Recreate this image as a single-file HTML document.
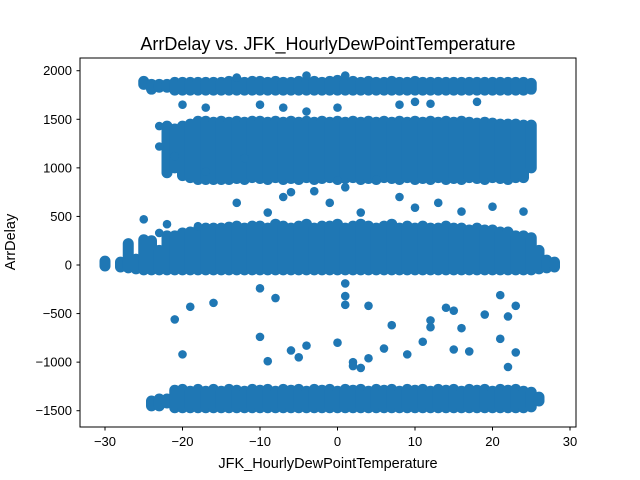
<!DOCTYPE html>
<html><head><meta charset="utf-8"><style>
body{margin:0;background:#fff;}
svg{display:block;font-family:"Liberation Sans","DejaVu Sans",sans-serif;}
</style></head><body>
<svg id="chart" width="640" height="480" viewBox="0 0 640 480">
<rect width="640" height="480" fill="#fff"/>
<text x="328" y="50" text-anchor="middle" font-size="18">ArrDelay vs. JFK_HourlyDewPointTemperature</text>
<g id="marks"></g>
<rect x="80" y="58" width="496" height="369" fill="none" stroke="#000" stroke-width="1"/>
<g id="axes"></g>
<text x="328" y="468" text-anchor="middle" font-size="14.5">JFK_HourlyDewPointTemperature</text>
<text transform="translate(15,242) rotate(-90)" text-anchor="middle" font-size="14.5">ArrDelay</text>
</svg>
<script>
// temperature columns and ArrDelay ranges per band [lo, hi] (null = absent)
const temps = [-30,-29,-28,-27,-26,-25,-24,-23,-22,-21,-20,-19,-18,-17,-16,-15,-14,-13,-12,-11,-10,-9,-8,-7,-6,-5,-4,-3,-2,-1,0,1,2,3,4,5,6,7,8,9,10,11,12,13,14,15,16,17,18,19,20,21,22,23,24,25,26,27,28];
const mainLo = [-10,null,-20,-30,-40,-50,-50,-50,-50,-50,-50,-50,-50,-50,-50,-50,-50,-50,-50,-50,-50,-50,-50,-50,-50,-50,-50,-50,-50,-50,-50,-50,-50,-50,-50,-50,-50,-50,-50,-50,-50,-50,-50,-50,-50,-50,-50,-50,-50,-50,-50,-50,-50,-50,-50,-50,-40,-30,-20];
const mainHi = [40,null,30,220,60,260,250,150,300,300,330,340,360,380,380,380,390,400,380,400,400,380,420,400,380,400,420,380,400,400,420,380,400,420,400,380,400,420,380,400,380,400,380,380,400,380,380,360,380,360,360,340,340,300,300,280,150,50,30];
const midLo = [null,null,null,null,null,null,null,null,950,1000,920,900,880,880,880,880,880,890,880,900,890,880,900,880,890,880,900,880,890,900,880,890,900,880,890,880,900,890,880,900,880,890,880,900,880,890,880,900,890,880,900,890,880,900,900,1000,null,null,null];
const midHi = [null,null,null,null,null,null,null,null,1430,1400,1430,1450,1480,1480,1470,1480,1470,1480,1470,1480,1480,1470,1480,1470,1480,1470,1480,1470,1480,1470,1480,1470,1480,1470,1480,1470,1480,1470,1480,1470,1480,1470,1480,1470,1480,1470,1480,1470,1460,1470,1460,1450,1450,1450,1440,1440,null,null,null];
const topLo = [null,null,null,null,null,1860,1810,1830,1830,1800,1800,1800,1800,1800,1800,1800,1800,1800,1800,1800,1800,1800,1800,1800,1800,1800,1800,1800,1800,1800,1800,1800,1800,1800,1800,1800,1800,1800,1800,1800,1800,1800,1800,1800,1800,1800,1800,1800,1800,1800,1800,1800,1800,1800,1800,1810,null,null,null];
const topHi = [null,null,null,null,null,1890,1860,1860,1860,1880,1880,1880,1880,1880,1880,1880,1890,1900,1880,1890,1890,1880,1890,1880,1880,1890,1880,1890,1880,1890,1900,1880,1890,1880,1890,1880,1880,1890,1880,1880,1890,1880,1880,1880,1880,1880,1880,1880,1880,1880,1880,1880,1880,1880,1880,1870,null,null,null];
const botLo = [null,null,null,null,null,null,-1450,-1450,-1420,-1470,-1470,-1470,-1470,-1470,-1470,-1470,-1470,-1470,-1470,-1470,-1470,-1470,-1470,-1470,-1470,-1470,-1470,-1470,-1470,-1470,-1470,-1470,-1470,-1470,-1470,-1470,-1470,-1470,-1470,-1470,-1470,-1470,-1470,-1470,-1470,-1470,-1470,-1470,-1470,-1470,-1470,-1470,-1470,-1470,-1470,-1460,-1400,null,null];
const botHi = [null,null,null,null,null,null,-1400,-1380,-1380,-1290,-1280,-1300,-1280,-1300,-1280,-1300,-1280,-1290,-1300,-1280,-1290,-1280,-1300,-1280,-1290,-1280,-1300,-1280,-1290,-1280,-1300,-1280,-1290,-1280,-1300,-1280,-1290,-1280,-1300,-1280,-1290,-1280,-1300,-1280,-1290,-1280,-1300,-1280,-1290,-1280,-1300,-1280,-1290,-1280,-1300,-1310,-1360,null,null];
// isolated points
const outX = [-25,-22,-23,-18,-13,-9,-6,-3,-7,1,0,5,8,10,13,16,20,24,-1,3,-10,-8,-19,-16,-21,-20,-10,-9,-6,-4,-5,1,1,1,4,2,2,0,3,4,6,7,9,11,12,12,14,15,16,15,17,19,21,23,22,21,23,22,-12,-10,-17,-4,0,10,12,-4,1,-13,-20,-17,-7,8,-23,-23,-21,18];
const outY = [470,420,330,400,640,540,750,760,700,800,870,880,700,590,640,550,600,550,640,540,-240,-340,-430,-390,-560,-920,-740,-990,-880,-830,-950,-190,-320,-410,-420,-1000,-1040,-800,-1060,-960,-860,-620,-920,-790,-570,-640,-440,-470,-650,-870,-890,-510,-310,-420,-530,-760,-900,-1050,1100,1650,1620,1580,1620,1680,1660,1950,1950,1930,1650,960,1620,1650,1220,1430,1120,1680];
const xTicks = [-30,-20,-10,0,10,20,30];
const yTicks = [-1500,-1000,-500,0,500,1000,1500,2000];

const NS = "http://www.w3.org/2000/svg";
const xScale = v => 337.5 + v * 7.75;
const yScale = v => 265 - v * 0.09714;
const C = "#1f77b4";
const marks = document.getElementById("marks");
const axes = document.getElementById("axes");

function band(lo, hi, name) {
  temps.forEach((t, i) => {
    if (lo[i] === null) return;
    const l = document.createElementNS(NS, "line");
    l.setAttribute("x1", xScale(t)); l.setAttribute("x2", xScale(t));
    l.setAttribute("y1", yScale(lo[i])); l.setAttribute("y2", yScale(hi[i]));
    l.setAttribute("stroke", C); l.setAttribute("stroke-width", 11);
    l.setAttribute("stroke-linecap", "round");
    
    
    marks.appendChild(l);
  });
}
band(mainLo, mainHi, "main-band-column");
band(midLo, midHi, "upper-band-column");
band(topLo, topHi, "top-band-column");
band(botLo, botHi, "bottom-band-column");
outX.forEach((x, i) => {
  const c = document.createElementNS(NS, "circle");
  c.setAttribute("cx", xScale(x)); c.setAttribute("cy", yScale(outY[i]));
  c.setAttribute("r", 4.3); c.setAttribute("fill", C);
  
  
  marks.appendChild(c);
});
xTicks.forEach(v => {
  const x = xScale(v);
  const l = document.createElementNS(NS, "line");
  l.setAttribute("x1", x); l.setAttribute("x2", x); l.setAttribute("y1", 427); l.setAttribute("y2", 430.5);
  l.setAttribute("stroke", "#000");
  
  
  axes.appendChild(l);
  const t = document.createElementNS(NS, "text");
  t.setAttribute("x", x); t.setAttribute("y", 446); t.setAttribute("text-anchor", "middle"); t.setAttribute("font-size", "13");
  t.textContent = v < 0 ? "\u2212" + (-v) : v;
  
  
  axes.appendChild(t);
});
yTicks.forEach(v => {
  const y = yScale(v);
  const l = document.createElementNS(NS, "line");
  l.setAttribute("x1", 76.5); l.setAttribute("x2", 80); l.setAttribute("y1", y); l.setAttribute("y2", y);
  l.setAttribute("stroke", "#000");
  
  
  axes.appendChild(l);
  const t = document.createElementNS(NS, "text");
  t.setAttribute("x", 72); t.setAttribute("y", y + 4.5); t.setAttribute("text-anchor", "end"); t.setAttribute("font-size", "13");
  t.textContent = v < 0 ? "\u2212" + (-v) : v;
  
  
  axes.appendChild(t);
});
</script>
</body></html>
